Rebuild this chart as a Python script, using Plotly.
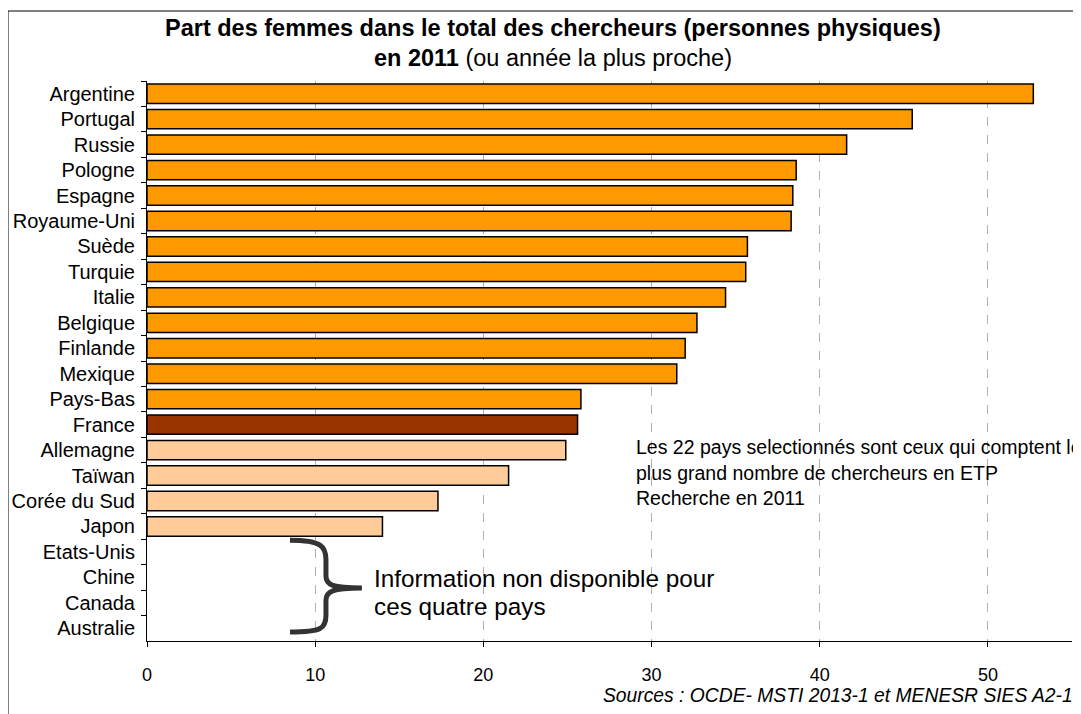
import plotly.graph_objects as go

countries = ["Argentine", "Portugal", "Russie", "Pologne", "Espagne", "Royaume-Uni",
             "Suède", "Turquie", "Italie", "Belgique", "Finlande", "Mexique",
             "Pays-Bas", "France", "Allemagne", "Taïwan", "Corée du Sud", "Japon",
             "Etats-Unis", "Chine", "Canada", "Australie"]
share_women = [52.7, 45.5, 41.6, 38.6, 38.4, 38.3,
               35.7, 35.6, 34.4, 32.7, 32.0, 31.5,
               25.8, 25.6, 24.9, 21.5, 17.3, 14.0,
               None, None, None, None]
groups = ["europe_autres"] * 13 + ["france"] + ["autres"] * 4 + ["nd"] * 4
x_ticks = [0, 10, 20, 30, 40, 50]

group_colors = {"europe_autres": "#FF9900", "france": "#993300", "autres": "#FFCC99", "nd": "#FFFFFF"}
bar_colors = [group_colors[g] for g in groups]

FONT = "Liberation Sans, Arial, sans-serif"

fig = go.Figure()
fig.add_trace(go.Bar(
    y=countries, x=share_women, orientation="h",
    marker=dict(color=bar_colors, line=dict(color="black", width=1.5)),
    width=0.76, showlegend=False, hoverinfo="x+y"))

# page body has an 8px margin: plot area spans page x 147..1072, y 81..641
fig.update_layout(
    width=1081, height=714,
    margin=dict(l=139, r=17, t=73, b=81),
    paper_bgcolor="white", plot_bgcolor="white",
    font=dict(family=FONT, size=19, color="black"),
    xaxis=dict(range=[0, 55], tickvals=x_ticks, showgrid=True, gridcolor="#B0B0B0",
               griddash="dash", gridwidth=1, showline=True, linecolor="black", linewidth=1,
               ticks="outside", ticklen=5, tickcolor="black", ticklabelstandoff=12,
               tickfont=dict(size=18), zeroline=False, fixedrange=True, automargin=False),
    yaxis=dict(categoryorder="array", categoryarray=countries, autorange="reversed",
               showline=True, linecolor="black", linewidth=1, ticks="outside",
               tickson="boundaries", ticklen=5, tickcolor="black", showgrid=False,
               ticklabelstandoff=7, tickfont=dict(size=20), fixedrange=True, automargin=False),
)

def py(page_y):
    return (641 - page_y) / 560

def px(page_x):
    return (page_x - 147) / 925

# Frame around chart
fig.add_shape(type="rect", xref="paper", yref="paper", x0=px(8), x1=1.05, y0=-0.3, y1=py(11),
              line=dict(color="black", width=1), fillcolor="rgba(0,0,0,0)", layer="below")

# Title lines
fig.add_annotation(xref="paper", yref="paper", x=px(553), y=py(28), xanchor="center", yanchor="middle",
                   text="<b>Part des femmes dans le total des chercheurs (personnes physiques)</b>",
                   showarrow=False, font=dict(size=23.5))
fig.add_annotation(xref="paper", yref="paper", x=px(553), y=py(58), xanchor="center", yanchor="middle",
                   text="<b>en 2011</b> (ou année la plus proche)", showarrow=False, font=dict(size=23.5))

# Note text
note_lines = ["Les 22 pays selectionnés sont ceux qui comptent les",
              "plus grand nombre de chercheurs en ETP",
              "Recherche en 2011"]
for i, line in enumerate(note_lines):
    fig.add_annotation(xref="paper", yref="paper", x=px(634), y=py(447 + 25.5 * i),
                       xanchor="left", yanchor="middle", text=line, showarrow=False,
                       font=dict(size=19.5))

nd_lines = ["Information non disponible pour", "ces quatre pays"]
for i, line in enumerate(nd_lines):
    fig.add_annotation(xref="paper", yref="paper", x=px(372), y=py(578 + 28 * i),
                       xanchor="left", yanchor="middle", text=line, showarrow=False,
                       font=dict(size=24.3))

# Brace
fig.add_shape(type="path", xref="x", yref="y",
              path="M 8.5,17.54 C 10.4,17.54 10.64,17.8 10.64,18.3 L 10.64,18.95 "
                   "C 10.64,19.3 11.0,19.42 12.78,19.42 C 11.0,19.42 10.64,19.55 10.64,19.9 "
                   "L 10.64,20.5 C 10.64,21.0 10.4,21.15 8.5,21.15",
              line=dict(color="#333333", width=5))

# Sources
fig.add_annotation(xref="paper", yref="paper", x=px(1075), y=py(695),
                   xanchor="right", yanchor="middle",
                   text="<i>Sources : OCDE- MSTI 2013-1 et MENESR SIES A2-1</i>",
                   showarrow=False, font=dict(size=19.3))

fig.write_html("out.html")
